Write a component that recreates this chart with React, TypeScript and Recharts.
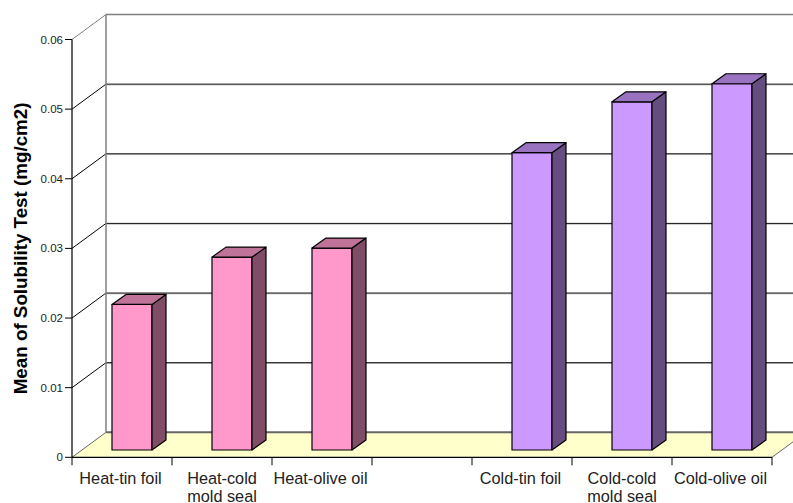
import { BarChart, Bar, XAxis, YAxis, CartesianGrid } from 'recharts';

const categories = [
  ['Heat-tin foil'],
  ['Heat-cold', 'mold seal'],
  ['Heat-olive oil'],
  [''],
  ['Cold-tin foil'],
  ['Cold-cold', 'mold seal'],
  ['Cold-olive oil'],
];
const solubility = [0.0209, 0.0277, 0.029, null, 0.0427, 0.05, 0.0526];
const yTicks = [0, 0.01, 0.02, 0.03, 0.04, 0.05, 0.06];

const HEAT = { front: '#FF99CC', side: '#804D66', top: '#BF7399' };
const COLD = { front: '#CC99FF', side: '#664D80', top: '#9973BF' };

// oblique projection: wall depth, and where a bar sits on the floor
const WALL_DX = 34;
const WALL_DY = -25;
const BAR_DX = 10;
const BAR_DY = -7.3;
const SIDE_DX = 14;
const SIDE_DY = -10;
const PLOT_TOP = 39.5;

const data = categories.map((lines, i) => ({ name: lines.join('|'), value: solubility[i] }));

const Box = ({ x, y, width, height, index }: any) => {
  if (!height) return null;
  const c = index < 3 ? HEAT : COLD;
  const l = x + BAR_DX;
  const r = l + width;
  const t = y + BAR_DY;
  const b = t + height;
  return (
    <g stroke="#000" strokeWidth={1.2} strokeLinejoin="round">
      <polygon fill={c.front} points={`${l},${t} ${r},${t} ${r},${b} ${l},${b}`} />
      <polygon fill={c.side} points={`${r},${t} ${r + SIDE_DX},${t + SIDE_DY} ${r + SIDE_DX},${b + SIDE_DY} ${r},${b}`} />
      <polygon fill={c.top} points={`${l},${t} ${l + SIDE_DX},${t + SIDE_DY} ${r + SIDE_DX},${t + SIDE_DY} ${r},${t}`} />
    </g>
  );
};

// one back-wall rule per y tick, plus the wall edge at the top and the floor at zero
const WallLine = ({ x1, x2, y1, index }: any) => {
  const backX = x1 + WALL_DX;
  const backY = y1 + WALL_DY;
  const isTop = Math.abs(y1 - PLOT_TOP) < 1;
  const isFloor = y1 > 400;
  if (isFloor) {
    return (
      <g key={`wall-${index}`}>
        <polygon
          fill="#FFFFCC"
          stroke="none"
          points={`${x1},${y1} ${backX},${backY} ${x2 + WALL_DX},${backY} ${x2},${y1}`}
        />
        <line x1={x1} y1={y1} x2={backX} y2={backY} stroke="#666" />
        <line x1={x2} y1={y1} x2={x2 + WALL_DX} y2={backY} stroke="#666" />
        <line x1={backX} y1={backY} x2={x2 + WALL_DX} y2={backY} stroke="#666" strokeWidth={2} />
      </g>
    );
  }
  if (isTop) {
    return (
      <g key={`wall-${index}`} stroke="#808080">
        <line x1={x1} y1={y1} x2={backX} y2={backY} />
        <line x1={backX} y1={backY} x2={x2 + WALL_DX} y2={backY} strokeWidth={1.5} />
        <line x1={backX} y1={backY} x2={backX} y2={backY + 418} strokeWidth={1.5} />
      </g>
    );
  }
  return (
    <g key={`wall-${index}`}>
      <line x1={x1} y1={y1} x2={backX} y2={backY} stroke="#000" />
      <line x1={backX} y1={backY + 0.8} x2={x2 + WALL_DX} y2={backY + 0.8} stroke="#bbb" />
      <line x1={backX} y1={backY} x2={x2 + WALL_DX} y2={backY} stroke="#111" />
    </g>
  );
};

const CategoryTick = ({ x, y, payload, index }: any) => {
  const step = 100;
  // recharts hands over the label position; the axis line is 8px above it
  const axisY = y - 8;
  const lines = String(payload.value).split('|');
  const labelX = lines.length === 1 ? x - 1.5 : x;
  return (
    <g>
      {index === 0 && <line x1={x - step / 2} x2={x - step / 2} y1={axisY} y2={axisY + 8} stroke="#000" />}
      <line x1={x + step / 2} x2={x + step / 2} y1={axisY} y2={axisY + 8} stroke="#000" />
      <text x={labelX} y={axisY + 26.5} textAnchor="middle" fontSize={16.3} fill="#222" fontFamily="Liberation Sans">
        {lines.map((line: string, i: number) => (
          <tspan key={i} x={labelX} dy={i === 0 ? 0 : 18.5}>
            {line}
          </tspan>
        ))}
      </text>
    </g>
  );
};

export default function App() {
  return (
    <div style={{ position: 'absolute', left: 0, top: 0, width: 793, height: 503, background: '#fff' }}>
      <BarChart
        width={793}
        height={503}
        data={data}
        barSize={40}
        margin={{ top: PLOT_TOP, right: 21, bottom: 15.7, left: 12 }}
      >
        <CartesianGrid vertical={false} horizontal={WallLine} />
        <XAxis
          dataKey="name"
          height={30}
          interval={0}
          axisLine={{ stroke: '#000', strokeWidth: 1.2 }}
          tickLine={false}
          tick={CategoryTick}
        />
        <YAxis
          width={60}
          domain={[0, 0.06]}
          ticks={yTicks}
          interval={0}
          tickSize={7}
          axisLine={{ stroke: '#000', strokeWidth: 1.2 }}
          tickLine={{ stroke: '#000' }}
          tick={{ fontSize: 11.5, fill: '#222', fontFamily: 'Liberation Sans' }}
          tickFormatter={(v: number) => String(v)}
          label={{
            value: 'Mean of Solubility Test (mg/cm2)',
            angle: -90,
            position: 'center',
            dx: -22,
            fontSize: 18.8,
            fontWeight: 'bold',
            fill: '#000',
            fontFamily: 'Liberation Sans',
          }}
        />
        <Bar dataKey="value" shape={Box} isAnimationActive={false} />
      </BarChart>
    </div>
  );
}
